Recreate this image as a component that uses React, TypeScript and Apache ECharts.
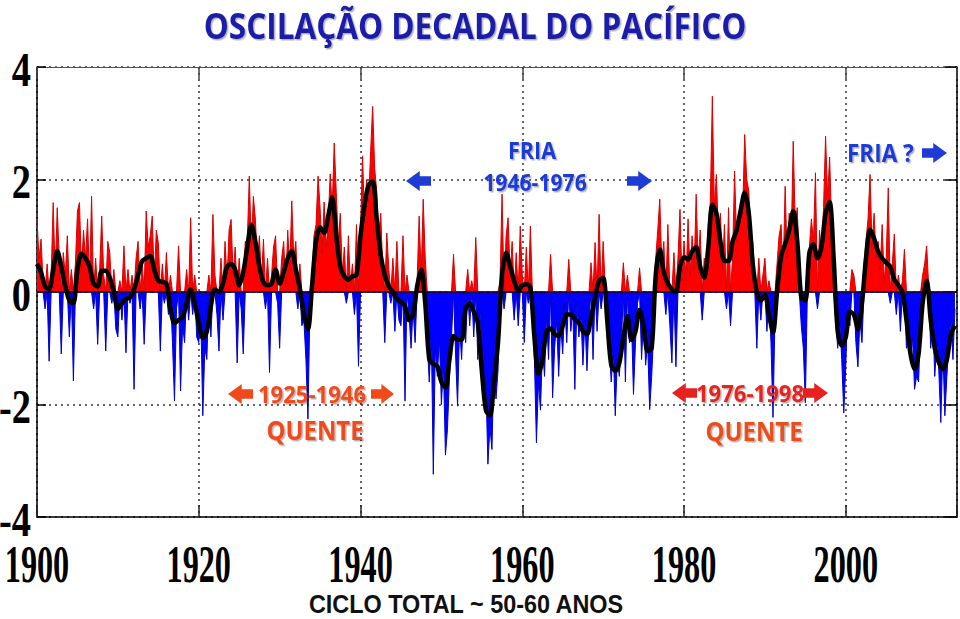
import React, { useEffect, useRef } from 'react';
import * as echarts from 'echarts';

// Quarterly PDO index values (estimated from the figure), 4 per year starting 1900.0
const q1900s = [1.29, 0.6, 0.94, 0.2, -0.3, 0.5, -1.23, 0.3, 1.59, 0.3, 1.5, 0.6, -1.1, 0.7, 0.3, 1.0, -0.8, 0.4, -1.58, 0.5, 1.44, 1.59, 0.4, 1.1, 0.6, 1.3, 0.2, 1.7, -0.3, 0.6, -0.93, 0.4, 1.35, 0.3, -1.05, 0.9, 0.7, -0.2, 0.4, -0.66];
const q1910s = [-0.8, 0.2, -0.5, 0.82, -1.08, 0.4, -0.2, 0.3, -1.73, 0.6, 0.9, -0.3, 0.5, -0.93, 1.44, 0.8, 1.0, 1.35, 0.2, 1.1, 0.88, -1.05, 0.5, -0.2, 0.7, -0.4, 0.3, -0.9, -1.94, -0.3, 0.82, -1.76, -0.6, -0.9, 0.4, -0.5, 1.32, -0.4, 0.3, -0.8];
const q1920s = [-0.9, -0.4, -2.2, -1.0, -1.2, 0.3, -0.8, 1.38, 0.3, -0.4, -1.05, 0.6, -0.5, 0.9, 0.2, 1.1, 1.29, 0.3, 0.8, -1.26, 0.6, -0.3, -1.1, 0.9, 0.9, 2.06, 0.8, 1.7, 1.3, 0.5, 1.0, 0.2, 0.94, -0.3, 0.6, -1.43, 0.3, 0.8, 1.0, -0.2];
const q1930s = [-1.0, 0.6, 0.9, 0.1, 1.1, 0.4, 1.62, 0.6, 0.9, -0.3, 0.5, -0.6, -0.5, -1.2, -2.26, -0.2, 0.3, 1.0, 1.2, 2.06, 1.5, 0.7, 1.6, 0.8, 1.2, 2.1, 1.5, 2.65, 1.77, 0.9, 1.4, 0.3, 0.8, -0.2, 1.0, 0.1, 0.5, -0.4, 1.2, -1.32];
const q1940s = [1.1, 2.42, 1.3, 2.0, 1.6, 2.5, 3.3, 2.2, 1.8, 1.0, 1.4, 0.4, -0.9, 1.05, 0.4, -0.2, 0.6, -0.7, 0.9, -0.5, -0.6, 1.0, -1.94, 0.3, -0.4, -1.0, -0.3, -0.9, 0.2, 1.35, 0.3, 1.65, 0.6, -0.9, -1.6, -0.7, -3.24, -1.0, -1.5, -0.8];
const q1950s = [-2.0, -1.3, -2.9, -2.44, -1.5, -0.8, 0.67, -1.1, -2.03, -0.6, -1.2, -0.3, -0.9, 0.4, -0.6, 0.2, -0.8, 0.97, -1.2, -0.3, -1.0, -2.0, -1.6, -3.06, -2.4, -2.8, -1.3, -1.9, -1.4, 0.2, 1.74, -0.3, 1.0, 1.32, 0.3, 0.9, -0.5, 0.7, -0.6, 1.17];
const q1960s = [0.3, -0.9, 0.8, -0.2, 1.17, -0.3, -1.2, -2.68, -1.6, -2.1, -1.0, -1.5, -0.4, -1.2, 0.67, -1.88, -1.0, -0.5, -1.5, -0.6, -1.1, -0.2, -0.9, 0.58, -0.7, -0.3, -1.73, -0.2, -0.8, -0.4, -1.3, -0.5, -1.4, -0.5, 0.52, -1.2, 0.88, -0.7, 1.38, -0.3];
const q1970s = [0.9, 0.1, -0.8, -1.0, -1.6, -1.0, -2.2, -1.2, -1.5, -0.9, 0.52, -1.6, 0.3, -0.9, -0.5, -1.82, -0.9, -0.2, 0.43, -1.2, -0.4, -1.3, -0.9, -2.09, -1.5, -0.7, 0.6, 1.1, 1.65, 0.5, 0.9, -0.4, 1.2, -0.6, -1.26, 0.7, -1.33, 0.6, 1.47, 0.2];
const q1980s = [0.9, 0.2, 1.3, 0.3, 1.0, 0.4, 1.74, 0.5, 1.1, -0.5, 0.6, 0.3, 1.2, 1.6, 3.48, 1.5, 2.09, 1.0, 1.4, 0.4, 1.2, -0.3, 1.5, -0.6, 0.6, 2.15, 0.9, 1.3, 1.6, 1.4, 2.8, 2.0, 1.8, 1.0, 0.9, 0.2, -1.0, 0.6, -0.5, 0.3];
const q1990s = [0.6, -0.7, 0.2, -0.9, -2.23, -0.4, 0.5, 1.0, 1.2, 0.3, 1.88, 0.6, 1.4, 0.9, 2.68, 1.2, 1.5, 0.4, -0.6, -1.0, -1.97, 0.5, 0.8, 1.3, 0.9, 2.12, -0.3, 1.1, 0.6, 1.5, 2.77, 1.7, 2.4, 1.2, 0.4, -0.5, -1.0, -0.5, -1.2, -2.15];
const q2000s = [-1.3, -0.2, -0.6, 0.4, 0.3, -0.9, -1.33, -0.5, -0.9, 0.5, 0.9, 1.3, 2.09, 0.8, 1.4, 0.6, 0.9, 0.4, 1.2, 0.2, 0.6, 1.85, -0.2, 0.5, 1.03, -0.4, 0.3, -0.7, 0.2, 0.76, -1.0, -0.6, -1.2, -0.8, -1.73, -1.5, -1.6, -0.6, 0.3, 0.5];
const q2010s = [0.82, 0.1, -1.0, -0.4, -1.5, -0.9, -1.4, -2.32, -1.0, -2.2, -1.5, -0.9, -0.5, -1.2, -0.3];

// Smoothed (running mean) values, 2 per year starting 1900.0
const s1900s = [0.5, 0.35, 0.1, 0.05, 0.4, 0.73, 0.45, 0.1, -0.15, -0.2, 0.4, 0.68, 0.6, 0.45, 0.15, 0.1, 0.38, 0.38, 0.25, 0.0];
const s1910s = [-0.3, -0.2, -0.12, -0.1, 0.05, 0.3, 0.55, 0.6, 0.64, 0.4, 0.2, 0.18, 0.15, -0.3, -0.55, -0.5, -0.45, -0.2, 0.05, -0.2];
const s1920s = [-0.55, -0.82, -0.7, -0.25, 0.05, 0.0, 0.15, 0.45, 0.5, 0.4, 0.12, 0.35, 0.8, 1.2, 0.9, 0.45, 0.17, 0.12, 0.15, 0.4];
const s1930s = [0.15, 0.35, 0.6, 0.73, 0.4, 0.05, -0.4, -0.66, 0.1, 0.9, 1.15, 1.05, 1.35, 1.68, 1.0, 0.45, 0.28, 0.22, 0.28, 0.3];
const s1940s = [1.0, 1.55, 1.9, 1.97, 1.3, 0.65, 0.3, 0.1, 0.0, -0.12, -0.18, -0.25, -0.5, -0.4, 0.1, 0.4, -0.2, -1.2, -1.28, -1.32];
const s1950s = [-1.6, -1.7, -1.2, -0.78, -0.85, -0.85, -0.3, -0.2, -0.35, -0.55, -1.4, -2.1, -2.2, -1.6, -0.9, 0.3, 0.7, 0.45, 0.2, 0.02];
const s1960s = [0.12, 0.14, 0.08, -0.8, -1.45, -1.2, -0.7, -0.65, -0.75, -0.78, -0.6, -0.4, -0.4, -0.48, -0.55, -0.7, -0.75, -0.45, -0.1, 0.2];
const s1970s = [0.25, -0.5, -1.3, -1.4, -1.26, -0.8, -0.43, -0.85, -0.7, -0.32, -0.6, -1.05, -1.0, 0.3, 0.76, 0.35, 0.15, 0.05, 0.0, 0.45];
const s1980s = [0.62, 0.58, 0.72, 0.8, 0.45, 0.25, 0.8, 1.55, 1.4, 0.9, 0.55, 0.55, 0.9, 1.1, 1.45, 1.77, 1.41, 0.5, 0.0, -0.15];
const s1990s = [-0.05, -0.4, -0.72, 0.0, 0.64, 0.85, 1.1, 1.44, 0.9, -0.1, -0.15, 0.7, 0.85, 0.6, 0.8, 1.4, 1.6, 0.6, -0.7, -0.95];
const s2000s = [-0.8, -0.35, -0.4, -0.66, -0.2, 0.6, 1.11, 0.95, 0.72, 0.6, 0.52, 0.45, 0.22, 0.12, 0.0, -0.5, -1.1, -1.37, -1.1, -0.2];
const s2010s = [0.2, -0.5, -1.0, -1.25, -1.37, -1.2, -0.75, -0.6];

const START_YEAR = 1900;
const xTickLabels = ['1900', '1920', '1940', '1960', '1980', '2000'];
const yTickLabels = ['4', '2', '0', '-2', '-4'];

const quarterly: number[] = ([] as number[]).concat(q1900s, q1910s, q1920s, q1930s, q1940s, q1950s, q1960s, q1970s, q1980s, q1990s, q2000s, q2010s);
const smoothed: number[] = ([] as number[]).concat(s1900s, s1910s, s1920s, s1930s, s1940s, s1950s, s1960s, s1970s, s1980s, s1990s, s2000s, s2010s);

function arrowPoints(x0: number, x1: number, cy: number, h: number, dir: 'left' | 'right') {
  const w = x1 - x0;
  const hl = w * 0.55;
  const sh = h * 0.24;
  if (dir === 'left') {
    return [[x0, cy], [x0 + hl, cy - h / 2], [x0 + hl, cy - sh], [x1, cy - sh], [x1, cy + sh], [x0 + hl, cy + sh], [x0 + hl, cy + h / 2]];
  }
  return [[x1, cy], [x1 - hl, cy - h / 2], [x1 - hl, cy - sh], [x0, cy - sh], [x0, cy + sh], [x1 - hl, cy + sh], [x1 - hl, cy + h / 2]];
}

export default function App() {
  const ref = useRef<HTMLDivElement>(null);
  useEffect(() => {
    document.body.style.margin = '0';
    const chart = echarts.init(ref.current!, null, { renderer: 'svg' });
    const posData = quarterly.map((v, i) => [START_YEAR + i * 0.25, Math.max(v, 0)]);
    const negData = quarterly.map((v, i) => [START_YEAR + i * 0.25, Math.min(v, 0)]);
    const smoothData = smoothed.map((v, i) => [START_YEAR + i * 0.5, v]);
    const dotted = { type: [2, 4] as any, color: '#333', width: 1.5 };
    chart.setOption({
      animation: false,
      backgroundColor: '#fff',
      grid: { left: 37, right: 3, top: 67, bottom: 102, containLabel: false },
      xAxis: [
        {
          type: 'value', min: 1900, max: 2013.75, interval: 20, position: 'bottom',
          axisLine: { show: true, onZero: false, lineStyle: { color: '#000', width: 1.5 } },
          axisTick: { show: true, inside: true, length: 12, lineStyle: { color: '#222', width: 1.5 } },
          axisLabel: { show: false },
          splitLine: { show: true, lineStyle: dotted },
        },
        {
          type: 'value', min: 1900, max: 2013.75, interval: 20, position: 'top',
          axisLine: { show: true, onZero: false, lineStyle: { color: '#555', width: 1 } },
          axisTick: { show: true, inside: true, length: 12, lineStyle: { color: '#444', width: 1.5 } },
          axisLabel: { show: false },
          splitLine: { show: false },
        },
      ],
      yAxis: [
        {
          type: 'value', min: -4, max: 4, interval: 2, position: 'left',
          axisLine: { show: true, onZero: false, lineStyle: { color: '#000', width: 1.5 } },
          axisTick: { show: true, inside: true, length: 9, lineStyle: { color: '#000', width: 1.5 } },
          axisLabel: { show: false },
          splitLine: { show: true, lineStyle: dotted },
        },
        {
          type: 'value', min: -4, max: 4, interval: 2, position: 'right',
          axisLine: { show: true, onZero: false, lineStyle: { color: '#000', width: 1.5 } },
          axisTick: { show: true, inside: true, length: 12, lineStyle: { color: '#000', width: 1.5 } },
          axisLabel: { show: false },
          splitLine: { show: false },
        },
      ],
      series: [
        {
          type: 'line', data: posData, symbol: 'none', z: 2,
          lineStyle: { color: '#d80000', width: 1 },
          areaStyle: { color: '#ff0000', opacity: 1 },
        },
        {
          type: 'line', data: negData, symbol: 'none', z: 2,
          lineStyle: { color: '#0000d0', width: 1 },
          areaStyle: { color: '#0000ff', opacity: 1 },
          markLine: {
            silent: true, symbol: ['none', 'none'], label: { show: false },
            lineStyle: { color: '#00003a', width: 1.5, type: 'solid' },
            data: [{ yAxis: 0 }],
          },
        },
        {
          type: 'line', data: smoothData, symbol: 'none', smooth: 0.3, z: 5,
          lineStyle: { color: '#000', width: 4.5 },
        },
      ],
    });

    const px = (x: number) => chart.convertToPixel({ xAxisIndex: 0 }, x) as unknown as number;
    const py = (y: number) => chart.convertToPixel({ yAxisIndex: 0 }, y) as unknown as number;
    const g: any[] = [];
    const shadow = { textShadowColor: 'rgba(0,0,0,0.3)', textShadowOffsetX: 1.5, textShadowOffsetY: 1.5, textShadowBlur: 1 };

    xTickLabels.forEach((t) => {
      g.push({
        type: 'text', x: px(Number(t)), y: 564, scaleX: 0.62, z: 10,
        style: { text: t, fontFamily: '"Liberation Serif"', fontWeight: 'bold', fontSize: 52, fill: '#000', align: 'center', verticalAlign: 'middle' },
      });
    });
    yTickLabels.forEach((t) => {
      g.push({
        type: 'text', x: 31, y: py(Number(t)) + 2, scaleX: 0.8, z: 10,
        style: { text: t, fontFamily: '"Liberation Serif"', fontWeight: 'bold', fontSize: 48, fill: '#000', align: 'right', verticalAlign: 'middle' },
      });
    });

    const txt = (text: string, x: number, y: number, size: number, fill: string, opts: any = {}) => ({
      type: 'text', x, y, scaleX: opts.scaleX ?? 0.9, z: 20,
      style: {
        text, fontFamily: opts.family ?? '"Open Sans"', fontWeight: 'bold', fontSize: size, fill,
        align: opts.align ?? 'center', verticalAlign: 'middle', ...(opts.noShadow ? {} : shadow),
      },
    });
    const arrow = (x0: number, x1: number, cy: number, h: number, dir: 'left' | 'right', fill: string) => ({
      type: 'polygon', z: 20, shape: { points: arrowPoints(x0, x1, cy, h, dir) }, style: { fill },
    });

    g.push(txt('OSCILAÇÃO DECADAL DO PACÍFICO', 475, 25, 35, '#1a1fa8', { scaleX: 0.9 }));
    const blue = '#1f3bd6';
    g.push(txt('FRIA', 532, 150, 24, blue));
    g.push(txt('1946-1976', 535, 182, 23, blue, { scaleX: 0.92 }));
    g.push(arrow(406, 431, 181, 20, 'left', blue));
    g.push(arrow(627, 652, 181, 20, 'right', blue));
    g.push(txt('FRIA ?', 847, 153, 25, blue, { align: 'left' }));
    g.push(arrow(922, 947, 153, 20, 'right', blue));

    const orange = '#f04a1a';
    g.push(arrow(228, 253, 394, 20, 'left', orange));
    g.push(txt('1925-1946', 312, 394, 24, orange, { scaleX: 0.92 }));
    g.push(arrow(371, 394, 394, 20, 'right', orange));
    g.push(txt('QUENTE', 315, 430, 26, '#ef4a1c', { scaleX: 0.92 }));

    const red = '#e8201e';
    g.push(arrow(672, 697, 393, 20, 'left', red));
    g.push(txt('1976-1998', 750, 393, 24, red, { scaleX: 0.92 }));
    g.push(arrow(803, 828, 393, 20, 'right', red));
    g.push(txt('QUENTE', 754, 431, 26, '#e8501e', { scaleX: 0.92 }));

    g.push(txt('CICLO TOTAL ~ 50-60 ANOS', 466, 604, 26, '#111', { family: '"Liberation Sans"', scaleX: 0.9, noShadow: true }));

    chart.setOption({ graphic: g });
    return () => chart.dispose();
  }, []);
  return <div ref={ref} style={{ width: 960, height: 619 }} />;
}
